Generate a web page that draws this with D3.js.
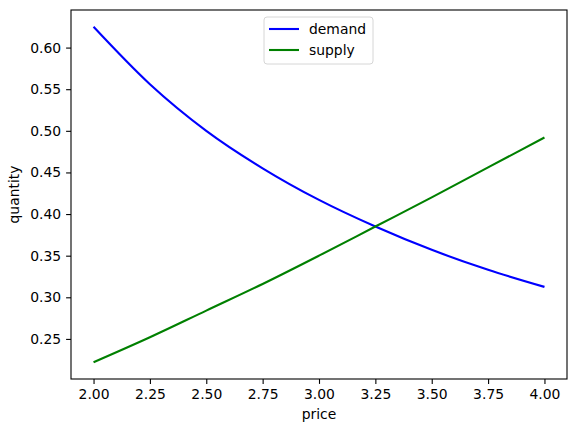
<!DOCTYPE html>
<html>
<head>
<meta charset="utf-8">
<script src="https://cdn.jsdelivr.net/npm/d3@7"></script>
<style>
  body { margin: 0; background: #fff; }
  svg text { font-family: "DejaVu Sans", sans-serif; fill: #000; }
</style>
</head>
<body>
<div id="chart"></div>
<script>
// values
var prices = [2.0, 2.25, 2.5, 2.75, 3.0, 3.25, 3.5, 3.75, 4.0];
var demand = [0.625, 0.556, 0.5, 0.455, 0.417, 0.385, 0.357, 0.333, 0.3125];
var supply = [0.222, 0.252, 0.284, 0.316, 0.350, 0.385, 0.420, 0.456, 0.492];
var xTicks = [2.0, 2.25, 2.5, 2.75, 3.0, 3.25, 3.5, 3.75, 4.0];
var yTicks = [0.25, 0.3, 0.35, 0.4, 0.45, 0.5, 0.55, 0.6];
var seriesNames = ["demand", "supply"];
var seriesColors = ["#0000ff", "#008000"];

var W = 576, H = 433;
var margin = { top: 10, right: 9, bottom: 54, left: 71 };
var width = W - margin.left - margin.right,
  height = H - margin.top - margin.bottom;
var fs = "13.9px";

var svg = d3.select("#chart").append("svg")
  .attr("width", W).attr("height", H);
var g = svg.append("g")
  .attr("transform", `translate(${margin.left},${margin.top})`);

// matplotlib style 5% padding
var xMin = d3.min(prices), xMax = d3.max(prices);
var allY = demand.concat(supply);
var yMin = d3.min(allY), yMax = d3.max(allY);
var xPad = (xMax - xMin) * 0.05, yPad = (yMax - yMin) * 0.05;

var x = d3.scaleLinear().domain([xMin - xPad, xMax + xPad]).range([0, width]);
var y = d3.scaleLinear().domain([yMin - yPad, yMax + yPad]).range([height, 0]);

/* AXES */
var xAxis = g.append("g")
  .attr("transform", `translate(0,${height})`)
  .call(d3.axisBottom(x).tickValues(xTicks).tickFormat(d3.format(".2f"))
    .tickSize(4.9).tickPadding(4.9).tickSizeOuter(0));
var yAxis = g.append("g")
  .call(d3.axisLeft(y).tickValues(yTicks).tickFormat(d3.format(".2f"))
    .tickSize(4.9).tickPadding(4.9).tickSizeOuter(0));

[xAxis, yAxis].forEach(function (a) {
  a.select(".domain").remove();
  a.selectAll(".tick line").attr("stroke", "#000").attr("stroke-width", 1.1);
  a.selectAll(".tick text").style("font-size", fs);
});

// frame
g.append("rect")
  .attr("x", 0).attr("y", 0)
  .attr("width", width).attr("height", height)
  .attr("fill", "none").attr("stroke", "#000").attr("stroke-width", 1.1);

/* LINES */
var series = [demand, supply];
var line = d3.line()
  .x(function (d, i) { return x(prices[i]); })
  .y(function (d) { return y(d); })
  .curve(d3.curveMonotoneX);

series.forEach(function (s, i) {
  g.append("path")
    .datum(s)
    .attr("fill", "none")
    .attr("stroke", seriesColors[i])
    .attr("stroke-width", 2.1)
    .attr("d", line);
});

/* LABELS */
g.append("text")
  .attr("x", width / 2).attr("y", height + 40)
  .attr("text-anchor", "middle")
  .style("font-size", fs)
  .text("price");
g.append("text")
  .attr("transform", `translate(${-52},${height / 2}) rotate(-90)`)
  .attr("text-anchor", "middle")
  .style("font-size", fs)
  .text("quantity");

/* LEGEND */
var legend = g.append("g").attr("transform", `translate(${264 - margin.left},${17 - margin.top})`);
legend.append("rect")
  .attr("width", 109).attr("height", 47).attr("rx", 3)
  .attr("fill", "#fff").attr("fill-opacity", 0.8)
  .attr("stroke", "#d6d6d6").attr("stroke-width", 1);
seriesNames.forEach(function (name, i) {
  var yy = 12 + i * 21;
  legend.append("line")
    .attr("x1", 5).attr("x2", 35).attr("y1", yy).attr("y2", yy)
    .attr("stroke", seriesColors[i]).attr("stroke-width", 2.1);
  legend.append("text")
    .attr("x", 45).attr("y", yy)
    .attr("dy", "0.35em")
    .style("font-size", fs)
    .text(name);
});
</script>
</body>
</html>
